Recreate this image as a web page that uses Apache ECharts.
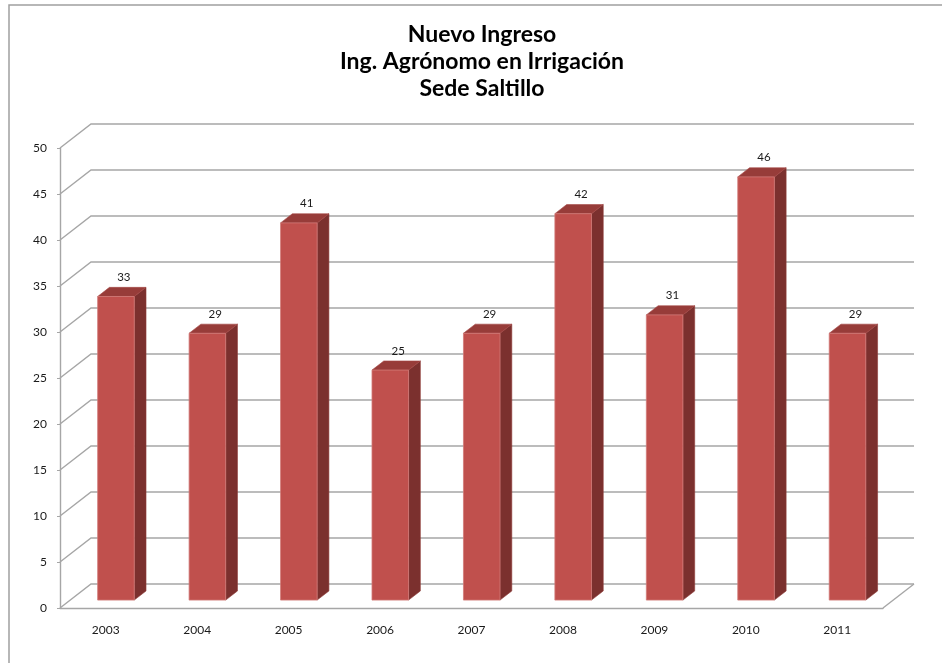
<!DOCTYPE html>
<html>
<head>
<meta charset="utf-8">
<script src="https://cdn.jsdelivr.net/npm/echarts@6/dist/echarts.min.js"></script>
<style>
  html, body { margin: 0; padding: 0; background: #fff; }
  #chart { width: 942px; height: 663px; }
</style>
</head>
<body>
<div id="chart"></div>
<script>
// Data
const years = ['2003', '2004', '2005', '2006', '2007', '2008', '2009', '2010', '2011'];
const ingreso = [33, 29, 41, 25, 29, 42, 31, 46, 29];
const yTicks = [0, 5, 10, 15, 20, 25, 30, 35, 40, 45, 50];

// Oblique projection of the depth axis (pixels for full depth)
const DEPTH_X = 31;
const DEPTH_Y = -24;
// Bars occupy this slice of the depth
const BAR_D0 = 0.33;
const BAR_D1 = 0.71;
const BAR_WIDTH = 0.4; // fraction of a category band

const GRID_COLOR = '#a6a6a6';
const FRONT = '#c0504d';
const TOP = '#973c39';
const SIDE = '#7b302e';

const chart = echarts.init(document.getElementById('chart'), null, { renderer: 'canvas' });

// Back wall, side wall and floor outlines at every value tick
function renderWall(params, api) {
  const cs = params.coordSys;
  const v = api.value(1);
  const y = api.coord([0, v])[1];
  const x0 = cs.x, x1 = cs.x + cs.width;
  const style = { stroke: GRID_COLOR, lineWidth: 1.4, fill: null };
  const children = [{
    type: 'polyline',
    shape: { points: [[x0, y], [x0 + DEPTH_X, y + DEPTH_Y], [x1 + DEPTH_X, y + DEPTH_Y]] },
    style: style,
    silent: true
  }];
  if (v === 0) {
    children.push({
      type: 'line',
      shape: { x1: x1, y1: y, x2: x1 + DEPTH_X, y2: y + DEPTH_Y },
      style: style,
      silent: true
    });
  }
  return { type: 'group', children: children };
}

// Prism-shaped bar: side, top and front faces plus the value label
function renderBar(params, api) {
  const i = api.value(0);
  const v = api.value(1);
  const top = api.coord([i, v]);
  const base = api.coord([i, 0]);
  const band = api.size([1, 0])[0];
  const w = band * BAR_WIDTH;
  const ox = BAR_D0 * DEPTH_X, oy = BAR_D0 * DEPTH_Y;
  const dx = (BAR_D1 - BAR_D0) * DEPTH_X, dy = (BAR_D1 - BAR_D0) * DEPTH_Y;
  const xl = top[0] - w / 2 + ox, xr = top[0] + w / 2 + ox;
  const yt = top[1] + oy, yb = base[1] + oy;
  return {
    type: 'group',
    children: [
      {
        type: 'polygon',
        shape: { points: [[xr, yt], [xr + dx, yt + dy], [xr + dx, yb + dy], [xr, yb]] },
        style: { fill: SIDE, stroke: '#8e3b38', lineWidth: 0.6 }
      },
      {
        type: 'polygon',
        shape: { points: [[xl, yt], [xr, yt], [xr + dx, yt + dy], [xl + dx, yt + dy]] },
        style: { fill: TOP, stroke: '#a54744', lineWidth: 0.6 }
      },
      {
        type: 'rect',
        shape: { x: xl, y: yt, width: xr - xl, height: yb - yt },
        style: { fill: FRONT, stroke: '#d27b78', lineWidth: 0.8 }
      },
      {
        type: 'text',
        x: top[0] + ox + dx / 2 + 2,
        y: yt + dy - 10,
        style: {
          text: String(v),
          fill: '#1a1a1a',
          font: '11.5px Lato',
          align: 'center',
          verticalAlign: 'middle'
        }
      }
    ]
  };
}

const option = {
  animation: false,
  backgroundColor: '#fff',
  title: {
    text: 'Nuevo Ingreso\nIng. Agrónomo en Irrigación\nSede Saltillo',
    left: 477,
    top: 16,
    textAlign: 'center',
    textStyle: {
      fontFamily: 'Lato',
      fontWeight: 'bold',
      fontSize: 23,
      lineHeight: 27,
      color: '#000'
    }
  },
  graphic: [{
    type: 'rect',
    shape: { x: 9, y: 5, width: 1000, height: 1000 },
    style: { fill: null, stroke: '#a0a0a0', lineWidth: 1.5 },
    silent: true
  }],
  grid: { left: 60, right: 59, top: 148, bottom: 55, containLabel: false },
  xAxis: {
    type: 'category',
    data: years,
    boundaryGap: true,
    axisLine: { lineStyle: { color: GRID_COLOR, width: 1.4 } },
    axisTick: { length: 4, lineStyle: { color: GRID_COLOR } },
    axisLabel: { color: '#1a1a1a', fontFamily: 'Lato', fontSize: 12, margin: 16 },
    splitLine: { show: false }
  },
  yAxis: {
    type: 'value',
    min: 0,
    max: 50,
    interval: 5,
    axisLine: { show: true, lineStyle: { color: GRID_COLOR, width: 1.4 } },
    axisTick: { show: true, length: 3, lineStyle: { color: GRID_COLOR } },
    axisLabel: { color: '#1a1a1a', fontFamily: 'Lato', fontSize: 12, margin: 13, padding: [4, 0, 0, 0] },
    splitLine: { show: false }
  },
  series: [
    {
      type: 'custom',
      name: 'walls',
      z: 1,
      silent: true,
      renderItem: renderWall,
      encode: { x: 0, y: 1 },
      data: yTicks.map(v => [0, v])
    },
    {
      type: 'custom',
      name: 'Nuevo Ingreso',
      z: 3,
      renderItem: renderBar,
      encode: { x: 0, y: 1 },
      data: ingreso.map((v, i) => [i, v])
    }
  ]
};

chart.setOption(option);
</script>
</body>
</html>
